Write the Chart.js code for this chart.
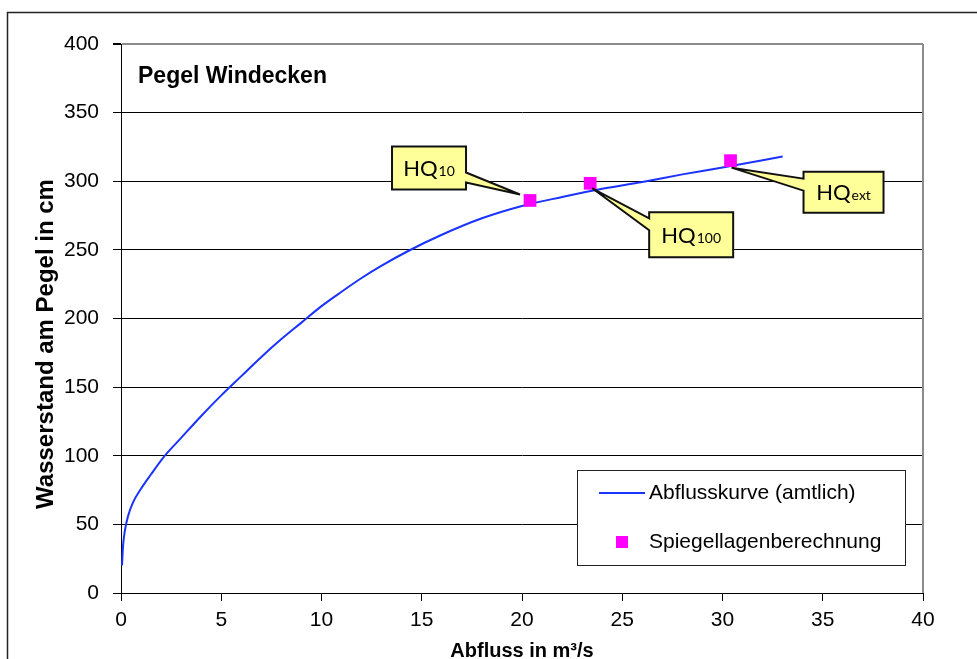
<!DOCTYPE html>
<html>
<head>
<meta charset="utf-8">
<script src="https://cdn.jsdelivr.net/npm/chart.js@4.4.1/dist/chart.umd.min.js"></script>
<style>
  html, body { margin: 0; padding: 0; background: #fff; }
  canvas { display: block; }
</style>
</head>
<body>
<canvas id="c" width="977" height="659"></canvas>
<script>
// ---- data ----
const curveQ = [0.05, 0.1, 0.2, 0.35, 0.6, 1.0, 1.5, 2.1, 3, 4, 5, 6, 7, 8, 9, 10, 11, 12, 13, 14.3, 16, 18, 20, 22, 24, 26, 28, 30, 33];
const curveW = [20, 34, 46, 56, 66, 76, 86.5, 98.5, 113, 129, 144, 158, 172, 185, 197, 209, 219.5, 229.5, 238.5, 249, 261, 273, 282, 288.5, 294.5, 299.5, 305, 310, 318];
const hqQ = [20.4, 23.4, 30.4];
const hqW = [286, 298.5, 315];
const hqSub = ['10', '100', 'ext'];
const xTicks = [0, 5, 10, 15, 20, 25, 30, 35, 40];
const yTicks = [0, 50, 100, 150, 200, 250, 300, 350, 400];
const seriesNames = ['Abflusskurve (amtlich)', 'Spiegellagenberechnung'];
const chartTitle = 'Pegel Windecken';
const xTitle = 'Abfluss in m³/s';
const yTitle = 'Wasserstand am Pegel in cm';

const FONT = "'Liberation Sans', Arial, sans-serif";

const frame = {
  id: 'frame',
  beforeDraw(chart) {
    const ctx = chart.ctx;
    ctx.save();
    ctx.fillStyle = '#fff';
    ctx.fillRect(0, 0, chart.width, chart.height);
    ctx.strokeStyle = '#222';
    ctx.lineWidth = 1.5;
    ctx.strokeRect(7.5, 12.5, 1200, 1000);
    ctx.restore();
  },
  beforeDatasetsDraw(chart) {
    const {ctx, chartArea: a} = chart;
    ctx.save();
    ctx.strokeStyle = '#8c8c8c';
    ctx.lineWidth = 2;
    ctx.beginPath();
    ctx.moveTo(a.right, a.top);
    ctx.lineTo(a.right, a.bottom);
    ctx.stroke();
    ctx.restore();
  },
  afterDraw(chart) {
    const {ctx, chartArea: a} = chart;
    ctx.save();
    ctx.fillStyle = '#000';
    ctx.font = 'bold 23px ' + FONT;
    ctx.textBaseline = 'alphabetic';
    ctx.textAlign = 'left';
    ctx.fillText(chartTitle, a.left + 17, a.top + 39);
    // y axis title
    ctx.translate(a.left - 68, a.top + 300);
    ctx.rotate(-Math.PI / 2);
    ctx.font = 'bold 24px ' + FONT;
    ctx.textAlign = 'center';
    ctx.fillText(yTitle, 0, 0);
    ctx.restore();
  }
};

const callouts = {
  id: 'callouts',
  afterDatasetsDraw(chart, args, opts) {
    const {ctx, scales: {x, y}} = chart;
    ctx.save();
    opts.items.forEach((it, i) => {
      const px = x.getPixelForValue(hqQ[i]);
      const py = y.getPixelForValue(hqW[i]);
      const L = px + it.dx, T = py + it.dy, R = L + it.w, B = T + it.h;
      const tx = px + it.tip[0], ty = py + it.tip[1];
      ctx.beginPath();
      if (it.side === 'right') {
        ctx.moveTo(L, T); ctx.lineTo(R, T); ctx.lineTo(R, T + it.b[0]);
        ctx.lineTo(tx, ty); ctx.lineTo(R, T + it.b[1]); ctx.lineTo(R, B); ctx.lineTo(L, B);
      } else {
        ctx.moveTo(L, T); ctx.lineTo(R, T); ctx.lineTo(R, B); ctx.lineTo(L, B);
        ctx.lineTo(L, T + it.b[1]); ctx.lineTo(tx, ty); ctx.lineTo(L, T + it.b[0]);
      }
      ctx.closePath();
      ctx.fillStyle = '#ffff99';
      ctx.fill();
      ctx.lineWidth = 2;
      ctx.lineJoin = 'miter';
      ctx.strokeStyle = '#111';
      ctx.stroke();
      const mainFont = "22px Lato, 'Open Sans', sans-serif";
      const subFont = "14px Lato, 'Open Sans', sans-serif";
      ctx.font = mainFont;
      const w1 = ctx.measureText('HQ').width;
      ctx.font = subFont;
      const w2 = ctx.measureText(hqSub[i]).width;
      const sx = (L + R) / 2 - (w1 + w2 + 1) / 2;
      const base = (T + B) / 2 + 8;
      ctx.fillStyle = '#000';
      ctx.textAlign = 'left';
      ctx.textBaseline = 'alphabetic';
      ctx.font = mainFont;
      ctx.fillText('HQ', sx, base);
      ctx.font = subFont;
      ctx.fillText(hqSub[i], sx + w1 + 1, base);
    });
    ctx.restore();
  }
};

const legendBox = {
  id: 'legendBox',
  afterDraw(chart, args, opts) {
    const {ctx, chartArea: a} = chart;
    const R = a.right - opts.right, B = a.bottom - opts.bottom;
    const L = R - opts.w, T = B - opts.h;
    ctx.save();
    ctx.fillStyle = '#fff';
    ctx.fillRect(L, T, opts.w, opts.h);
    ctx.strokeStyle = '#222';
    ctx.lineWidth = 1;
    ctx.strokeRect(Math.round(L) + 0.5, Math.round(T) + 0.5, opts.w, opts.h);
    const ds = chart.data.datasets;
    const y1 = T + 23, y2 = T + 72;
    ctx.strokeStyle = ds[1].borderColor;
    ctx.lineWidth = 2;
    ctx.beginPath();
    ctx.moveTo(L + 22, y1); ctx.lineTo(L + 68, y1);
    ctx.stroke();
    ctx.fillStyle = ds[0].backgroundColor;
    ctx.fillRect(L + 39, y2 - 6, 12, 12);
    ctx.fillStyle = '#000';
    ctx.font = '21px ' + FONT;
    ctx.textBaseline = 'middle';
    ctx.textAlign = 'left';
    ctx.fillText(ds[1].label, L + 72, y1);
    ctx.fillText(ds[0].label, L + 72, y2);
    ctx.restore();
  }
};

new Chart(document.getElementById('c'), {
  type: 'scatter',
  data: {
    datasets: [
      {
        label: seriesNames[1],
        data: hqQ.map((q, i) => ({x: q, y: hqW[i]})),
        pointStyle: 'rect',
        pointRadius: 9,
        pointHoverRadius: 9,
        backgroundColor: '#ff00ff',
        borderWidth: 0,
        showLine: false,
        order: 0
      },
      {
        label: seriesNames[0],
        data: curveQ.map((q, i) => ({x: q, y: curveW[i]})),
        showLine: true,
        borderColor: '#1a33ff',
        borderWidth: 2,
        pointRadius: 0,
        pointHoverRadius: 0,
        cubicInterpolationMode: 'monotone',
        fill: false,
        order: 1
      }
    ]
  },
  options: {
    responsive: false,
    animation: false,
    devicePixelRatio: 1,
    layout: { padding: { left: 0, top: 44, right: 54, bottom: 0 } },
    plugins: {
      legend: { display: false },
      tooltip: { enabled: false },
      callouts: {
        items: [
          { dx: -138, dy: -54, w: 74, h: 43, side: 'right', b: [26, 36], tip: [-10, -6] },
          { dx: 59, dy: 29, w: 84, h: 45, side: 'left', b: [6, 18], tip: [2, 5] },
          { dx: 73, dy: 11, w: 80, h: 41, side: 'left', b: [7, 19], tip: [1, 7] }
        ]
      },
      legendBox: { right: 18, bottom: 28, w: 328, h: 95 }
    },
    scales: {
      x: {
        type: 'linear',
        min: 0, max: 40,
        afterBuildTicks: s => { s.ticks = xTicks.map(v => ({value: v})); },
        afterFit: s => { s.height = 66; },
        grid: { drawOnChartArea: false, drawTicks: true, tickLength: 8, color: '#000', tickColor: '#000' },
        border: { color: '#000', width: 1 },
        ticks: { color: '#000', font: { family: FONT, size: 21 }, padding: 7, maxRotation: 0 },
        title: {
          display: true, text: xTitle, color: '#000',
          font: { family: FONT, size: 20, weight: 'bold', lineHeight: 1 },
          padding: { top: 0, bottom: -2 }
        }
      },
      y: {
        type: 'linear',
        min: 0, max: 400,
        afterBuildTicks: s => { s.ticks = yTicks.map(v => ({value: v})); },
        afterFit: s => { s.width = 121; },
        grid: {
          drawTicks: true, tickLength: 8,
          color: c => c.tick && c.tick.value === 400 ? '#8c8c8c' : '#000',
          lineWidth: c => c.tick && c.tick.value === 400 ? 2 : 1,
          tickColor: '#000'
        },
        border: { color: '#000', width: 1 },
        ticks: { color: '#000', font: { family: FONT, size: 21 }, padding: 14 },
        title: { display: false }
      }
    }
  },
  plugins: [frame, callouts, legendBox]
});
</script>
</body>
</html>
